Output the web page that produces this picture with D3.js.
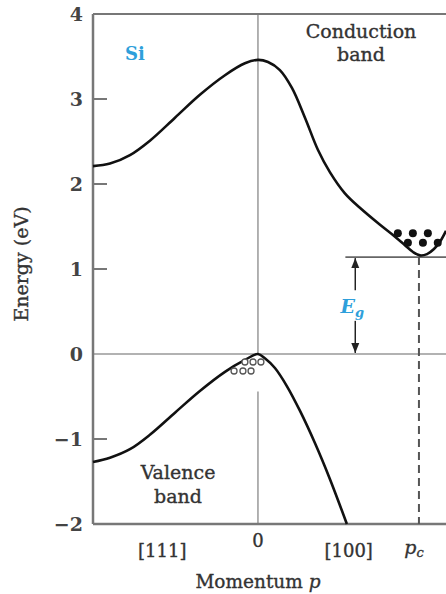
<!DOCTYPE html>
<html>
<head>
<meta charset="utf-8">
<script src="https://cdn.jsdelivr.net/npm/d3@7"></script>
<style>
  body { margin: 0; background: #fff; }
  text { font-family: "DejaVu Serif", "Liberation Serif", serif; fill: #333; }
  .lab { stroke: #333; stroke-width: 0.35px; }
</style>
</head>
<body>
<div id="chart"></div>
<script>
let width = 446;
let height = 594;
let margin = { top: 14, right: 0, bottom: 70, left: 93 };

// energy ticks (eV)
let yTicks = [-2, -1, 0, 1, 2, 3, 4];

// conduction band, momentum p (arb.) vs energy (eV)
let condP = [-1, -0.897, -0.776, -0.655, -0.503, -0.352, -0.2, -0.079, 0, 0.061, 0.133, 0.206, 0.285, 0.364, 0.436, 0.527, 0.618, 0.74, 0.831, 0.891, 0.94, 0.982, 1.025, 1.067, 1.103, 1.14];
let condE = [2.21, 2.24, 2.34, 2.51, 2.78, 3.05, 3.28, 3.42, 3.46, 3.435, 3.34, 3.13, 2.78, 2.40, 2.14, 1.89, 1.72, 1.52, 1.38, 1.28, 1.20, 1.16, 1.175, 1.235, 1.32, 1.45];

// valence band
let valP = [-1, -0.897, -0.776, -0.655, -0.503, -0.352, -0.2, -0.079, 0, 0.042, 0.103, 0.176, 0.255, 0.346, 0.436, 0.539];
let valE = [-1.27, -1.22, -1.12, -0.95, -0.69, -0.435, -0.21, -0.07, 0, -0.05, -0.165, -0.38, -0.67, -1.05, -1.47, -2.0];

// x labels
let xLabelP = [-0.58, 0, 0.55];
let xLabelText = ["[111]", "0", "[100]"];
let pc = 0.976;
let gapE = 1.14;

// electrons (filled) and holes (open)
let elecP = [0.848, 0.939, 1.03, 0.909, 1.0, 1.09];
let elecE = [1.42, 1.42, 1.42, 1.31, 1.31, 1.31];
let holeP = [-0.079, -0.030, 0.018, -0.145, -0.091, -0.042];
let holeE = [-0.094, -0.094, -0.094, -0.2, -0.2, -0.2];

let svg = d3.select("#chart").append("svg").attr("width", width).attr("height", height);

let x = d3.scaleLinear().domain([-1, 1.14]).range([margin.left, width - margin.right]);
let y = d3.scaleLinear().domain([-2, 4]).range([height - margin.bottom, margin.top]);

let blue = "#2e9fdb";

// zero line and p=0 line (gap where holes sit)
svg.append("line").attr("x1", x(-1)).attr("x2", x(1.14)).attr("y1", y(0)).attr("y2", y(0))
  .attr("stroke", "#999").attr("stroke-width", 1.5);
svg.append("line").attr("x1", x(0)).attr("x2", x(0)).attr("y1", y(4)).attr("y2", y(0))
  .attr("stroke", "#999").attr("stroke-width", 1.5);
svg.append("line").attr("x1", x(0)).attr("x2", x(0)).attr("y1", y(-0.44)).attr("y2", y(-2))
  .attr("stroke", "#999").attr("stroke-width", 1.5);

// axes frame
svg.append("line").attr("x1", x(-1)).attr("x2", x(1.14)).attr("y1", y(4)).attr("y2", y(4))
  .attr("stroke", "#777").attr("stroke-width", 2);
svg.append("line").attr("x1", x(-1)).attr("x2", x(1.14)).attr("y1", y(-2)).attr("y2", y(-2))
  .attr("stroke", "#777").attr("stroke-width", 2.5);
svg.append("line").attr("x1", x(-1)).attr("x2", x(-1)).attr("y1", y(4)).attr("y2", y(-2))
  .attr("stroke", "#777").attr("stroke-width", 2.5);

// y ticks
svg.selectAll(".ytick").data(yTicks.filter(d => d > -2 && d < 4 && d !== 0)).enter()
  .append("line").attr("class", "ytick")
  .attr("x1", x(-1)).attr("x2", x(-1) + 14)
  .attr("y1", d => y(d)).attr("y2", d => y(d))
  .attr("stroke", "#777").attr("stroke-width", 2);

svg.selectAll(".ylab").data(yTicks).enter()
  .append("text").attr("class", "ylab")
  .attr("x", x(-1) - 10).attr("y", d => y(d) + 7)
  .attr("text-anchor", "end")
  .style("font-size", "19px").style("font-weight", "bold").style("fill", "#444")
  .text(d => d < 0 ? "\u2212" + Math.abs(d) : d);

// x labels
svg.selectAll(".xlab").data(xLabelP).enter()
  .append("text").attr("class", "xlab lab")
  .attr("x", d => x(d)).attr("y", (d, i) => xLabelText[i] === "0" ? 547 : 557)
  .attr("text-anchor", "middle")
  .style("font-size", "18px")
  .text((d, i) => xLabelText[i]);

let pcLab = svg.append("text").attr("class", "lab").attr("x", x(pc) - 5).attr("y", 554)
  .attr("text-anchor", "middle").style("font-size", "19px").style("font-style", "italic");
pcLab.append("tspan").text("p");
pcLab.append("tspan").attr("dy", 3).style("font-size", "13px").text("c");

let mLab = svg.append("text").attr("class", "lab").attr("x", x(0)).attr("y", 588)
  .attr("text-anchor", "middle").style("font-size", "18.5px");
mLab.append("tspan").text("Momentum ");
mLab.append("tspan").style("font-style", "italic").text("p");

// y title
svg.append("text").attr("class", "lab")
  .attr("transform", "translate(28," + 264 + ") rotate(-90)")
  .attr("text-anchor", "middle").style("font-size", "19px")
  .text("Energy (eV)");

// gap line and dashed pc line
svg.append("line").attr("x1", x(0.53)).attr("x2", x(1.14)).attr("y1", y(gapE)).attr("y2", y(gapE))
  .attr("stroke", "#666").attr("stroke-width", 1.6);
svg.append("line").attr("x1", x(pc)).attr("x2", x(pc)).attr("y1", y(gapE)).attr("y2", y(-2))
  .attr("stroke", "#555").attr("stroke-width", 2).attr("stroke-dasharray", "8,5");

// bands
let line = d3.line().x(d => x(d[0])).y(d => y(d[1])).curve(d3.curveCatmullRom.alpha(0.5));
svg.append("path").datum(condP.map((p, i) => [p, condE[i]]))
  .attr("d", line).attr("fill", "none").attr("stroke", "#111").attr("stroke-width", 2.6);
svg.append("path").datum(valP.map((p, i) => [p, valE[i]]))
  .attr("d", line).attr("fill", "none").attr("stroke", "#111").attr("stroke-width", 2.6);

// electrons and holes
svg.selectAll(".elec").data(elecP).enter().append("circle").attr("class", "elec")
  .attr("cx", d => x(d)).attr("cy", (d, i) => y(elecE[i])).attr("r", 4).attr("fill", "#111");
svg.selectAll(".hole").data(holeP).enter().append("circle").attr("class", "hole")
  .attr("cx", d => x(d)).attr("cy", (d, i) => y(holeE[i])).attr("r", 3)
  .attr("fill", "#fff").attr("stroke", "#555").attr("stroke-width", 1.3);

// Eg arrows
let ax = x(0.59);
svg.append("defs").append("marker").attr("id", "head")
  .attr("viewBox", "0 0 10 10").attr("refX", 10).attr("refY", 5)
  .attr("markerWidth", 10).attr("markerHeight", 10).attr("markerUnits", "userSpaceOnUse")
  .attr("orient", "auto")
  .append("path").attr("d", "M0,1 L10,5 L0,9 Z").attr("fill", "#222");
svg.append("line").attr("x1", ax).attr("x2", ax).attr("y1", y(0.75)).attr("y2", y(gapE) + 1)
  .attr("stroke", "#222").attr("stroke-width", 1.5).attr("marker-end", "url(#head)");
svg.append("line").attr("x1", ax).attr("x2", ax).attr("y1", y(0.39)).attr("y2", y(0) - 1)
  .attr("stroke", "#222").attr("stroke-width", 1.5).attr("marker-end", "url(#head)");

let eg = svg.append("text").attr("x", ax - 3).attr("y", 313).attr("text-anchor", "middle")
  .style("font-size", "19px").style("font-style", "italic").style("font-weight", "bold").style("fill", blue);
eg.append("tspan").text("E");
eg.append("tspan").attr("dy", 4).style("font-size", "13px").text("g");

// band labels
svg.append("text").attr("x", 135).attr("y", 60).attr("text-anchor", "middle")
  .style("font-size", "18px").style("font-weight", "bold").style("fill", blue).text("Si");

svg.selectAll(".clab").data(["Conduction", "band"]).enter().append("text").attr("class", "clab lab")
  .attr("x", 361).attr("y", (d, i) => 38 + i * 23).attr("text-anchor", "middle")
  .style("font-size", "19px").text(d => d);
svg.selectAll(".vlab").data(["Valence", "band"]).enter().append("text").attr("class", "vlab lab")
  .attr("x", 178).attr("y", (d, i) => 479 + i * 24).attr("text-anchor", "middle")
  .style("font-size", "19px").text(d => d);
</script>
</body>
</html>
